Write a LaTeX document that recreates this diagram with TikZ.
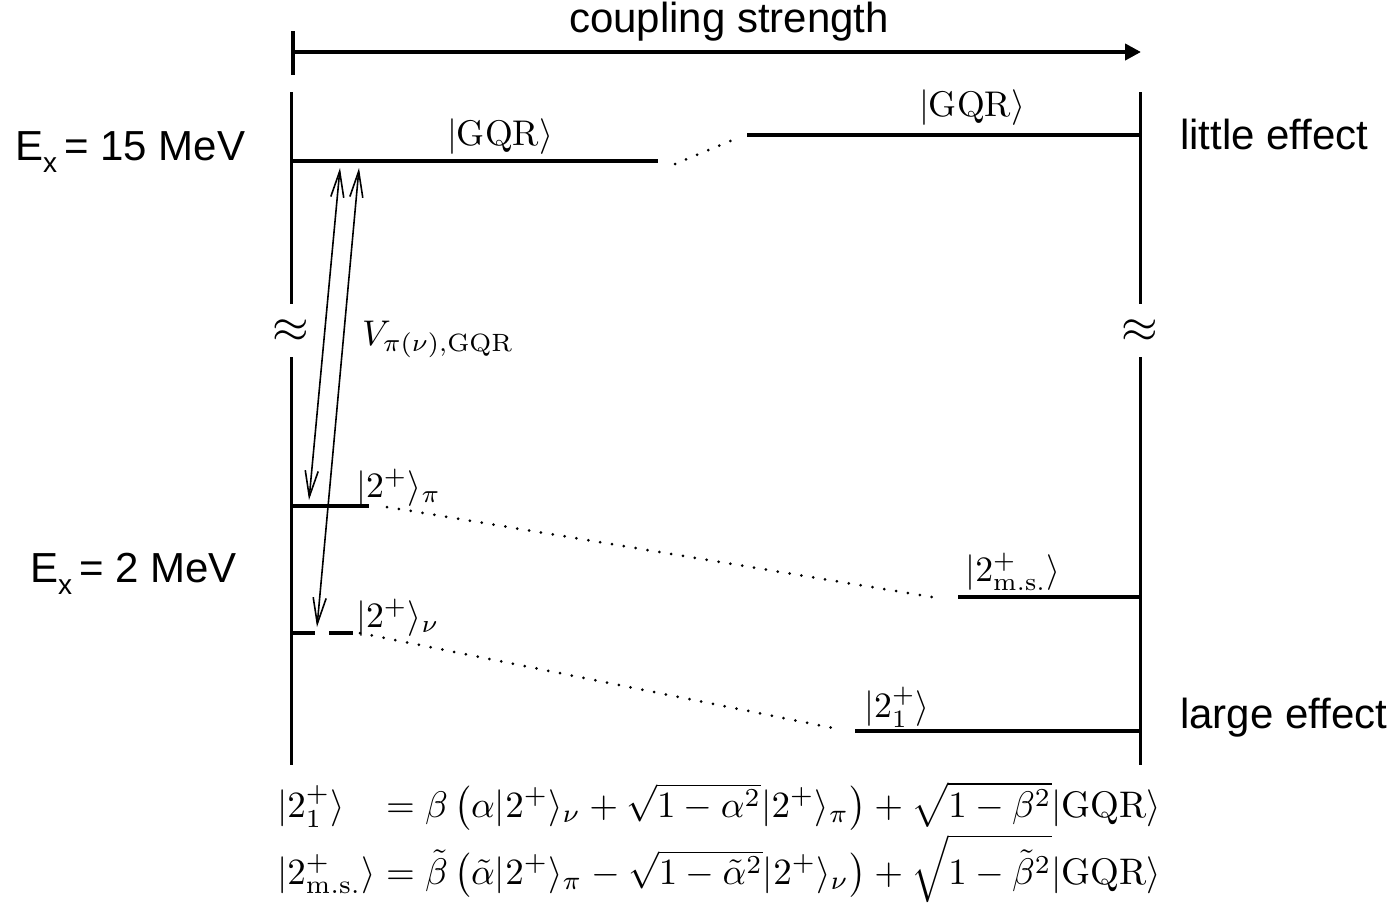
\documentclass[tikz,border=0pt]{standalone}
\usepackage{amsmath}
\usepackage{graphicx}
\usepackage{fontspec}
\newfontfamily\arial{Liberation Sans}
\newcommand{\bigmath}[1]{\scalebox{3.57}{$#1$}}
\newcommand{\eqmath}[1]{\scalebox{3.7}{$#1$}}
\usetikzlibrary{arrows.meta}
\begin{document}
\begin{tikzpicture}[x=1pt,y=-1pt,
  level/.style={line width=4.5pt},
  axisline/.style={line width=3pt},
  coup/.style={line width=1.6pt, {Straight Barb[length=26pt,width=13pt]}-{Straight Barb[length=26pt,width=13pt]}},
  dotline/.style={line width=3pt, line cap=round, dash pattern=on 0pt off 12pt},
  sanslabel/.style={font=\arial\fontsize{42}{48}\selectfont, inner sep=0pt},
  mlabel/.style={font=\fontsize{10}{12}\selectfont, inner sep=0pt},
  approxsym/.style={inner sep=0pt}
]
\useasboundingbox (0,0) rectangle (1398,903);

% coupling strength arrow
\coordinate (cs0) at (293,52);
\coordinate (cs1) at (1141,52);
\coordinate (cst) at (293,31);
\coordinate (csb) at (293,75);
\draw[line width=4pt, -{Triangle[length=16pt,width=16pt]}] (cs0) -- (cs1);
\draw[line width=4pt] (cst) -- (csb);
\node[sanslabel] (cslab) at (729,22) {coupling strength};

% axes
\coordinate (la0) at (291,92);  \coordinate (la1) at (291,304);
\coordinate (la2) at (291,357); \coordinate (la3) at (291,765);
\coordinate (ra0) at (1140,92);  \coordinate (ra1) at (1140,304);
\coordinate (ra2) at (1140,357); \coordinate (ra3) at (1140,765);
\draw[axisline] (la0) -- (la1) (la2) -- (la3);
\draw[axisline] (ra0) -- (ra1) (ra2) -- (ra3);
\node[approxsym] (lapprox) at (291,331) {\scalebox{4.7}{$\approx$}};
\node[approxsym] (rapprox) at (1140,331) {\scalebox{4.7}{$\approx$}};

% levels
\coordinate (g0) at (291,161); \coordinate (g1) at (658,161);
\coordinate (G0) at (747,135); \coordinate (G1) at (1140,135);
\coordinate (p0) at (291,506); \coordinate (p1) at (369,506);
\coordinate (m0) at (958,597); \coordinate (m1) at (1140,597);
\coordinate (n0) at (291,633); \coordinate (n1) at (315,633);
\coordinate (n2) at (329,633); \coordinate (n3) at (353,633);
\coordinate (o0) at (855,731); \coordinate (o1) at (1140,731);
\draw[level] (g0) -- (g1);
\draw[level] (G0) -- (G1);
\draw[level] (p0) -- (p1);
\draw[level] (m0) -- (m1);
\draw[level] (n0) -- (n1) (n2) -- (n3);
\draw[level] (o0) -- (o1);

% dotted connections
\coordinate (d0) at (675,164); \coordinate (d1) at (740,137);
\coordinate (d2) at (387,507); \coordinate (d3) at (938,598);
\coordinate (d4) at (360,633); \coordinate (d5) at (833,728);
\draw[dotline] (d0) -- (d1);
\draw[dotline] (d2) -- (d3);
\draw[dotline] (d4) -- (d5);

% level labels
\node[mlabel] (lg) at (500,137) {\bigmath{|\mathrm{GQR}\rangle}};
\node[mlabel] (lG) at (972,108) {\bigmath{|\mathrm{GQR}\rangle}};
\node[mlabel, anchor=base west] (lp) at (356,497) {\bigmath{|2^+\rangle_\pi}};
\node[mlabel, anchor=base west] (ln) at (356,627) {\bigmath{|2^+\rangle_\nu}};
\node[mlabel] (lm) at (1013,572) {\bigmath{|2^+_{\mathrm{m.s.}}\rangle}};
\node[mlabel] (lo) at (897,707) {\bigmath{|2^+_1\rangle}};

% coupling arrows
\coordinate (a0) at (340,168); \coordinate (a1) at (309,500);
\coordinate (b0) at (359,168); \coordinate (b1) at (317,627);
\draw[coup] (a0) -- (a1);
\draw[coup] (b0) -- (b1);
\node[mlabel, anchor=base west] (vlab) at (362,345) {\bigmath{V_{\pi(\nu),\mathrm{GQR}}}};

% side labels
\node[sanslabel, anchor=base west] (e15) at (15,160) {E\raisebox{-0.3em}{\fontsize{28}{28}\selectfont x}\,= 15 MeV};
\node[sanslabel, anchor=base west] (e2) at (30,582) {E\raisebox{-0.3em}{\fontsize{28}{28}\selectfont x}\,= 2 MeV};
\node[sanslabel, anchor=base west] (little) at (1180,149) {little effect};
\node[sanslabel, anchor=base west] (large) at (1180,728) {large effect};

% equations
\node[mlabel, anchor=west] (eq) at (277,842) {\eqmath{\begin{array}{@{}l@{}l@{}}
|2_1^+\rangle & {}= \beta\left(\alpha|2^+\rangle_\nu + \sqrt{1-\alpha^2}|2^+\rangle_\pi\right) + \sqrt{1-\beta^2}|\mathrm{GQR}\rangle\\[1pt]
|2^+_{\mathrm{m.s.}}\rangle & {}= \tilde\beta\left(\tilde\alpha|2^+\rangle_\pi - \sqrt{1-\tilde\alpha^2}|2^+\rangle_\nu\right) + \sqrt{1-\tilde\beta^2}|\mathrm{GQR}\rangle
\end{array}}};
\end{tikzpicture}
\end{document}
